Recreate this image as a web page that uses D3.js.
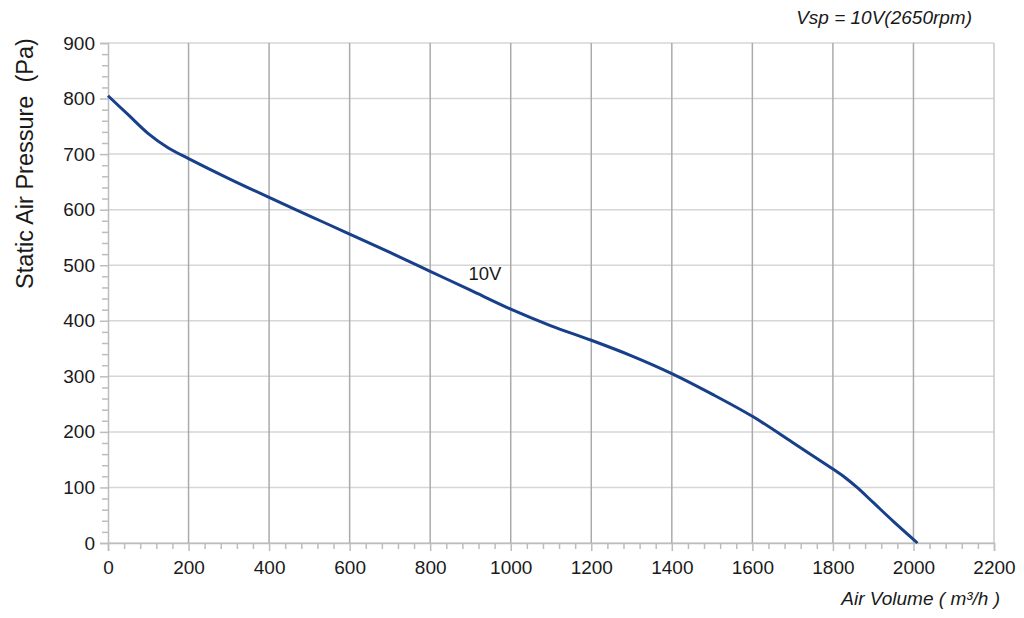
<!DOCTYPE html>
<html>
<head>
<meta charset="utf-8">
<script src="https://cdn.jsdelivr.net/npm/d3@7"></script>
<style>
  body { margin: 0; background: #fff; }
  svg { font-family: "Liberation Sans", Arial, sans-serif; }
</style>
</head>
<body>
<div id="chart"></div>
<script>
// air volume (m3/h) and static pressure (Pa)
var airVolume = [0, 50, 100, 150, 200, 300, 400, 500, 600, 700, 800, 900, 1000, 1100, 1200, 1300, 1400, 1500, 1600, 1700, 1800, 1830, 1860, 1900, 1950, 2010];
var pressure = [805, 771, 737, 711, 692, 656, 622, 589, 556, 523, 489, 455, 421, 391, 365, 337, 305, 268, 228, 181, 133, 118, 100, 73, 39, 0];
var xTicks = [0, 200, 400, 600, 800, 1000, 1200, 1400, 1600, 1800, 2000, 2200];
var yTicks = [0, 100, 200, 300, 400, 500, 600, 700, 800, 900];
var curveLabel = "10V";
var labelAt = 900;

var width = 1024, height = 618;
var margin = { top: 43, right: 30, bottom: 75, left: 108 };
var innerW = width - margin.left - margin.right;
var innerH = height - margin.top - margin.bottom;

var svg = d3.select("#chart").append("svg")
  .attr("width", width)
  .attr("height", height);

var g = svg.append("g")
  .attr("transform", "translate(" + margin.left + "," + margin.top + ")");

var x = d3.scaleLinear().domain([0, 2200]).range([0, innerW]);
var y = d3.scaleLinear().domain([0, 900]).range([innerH, 0]);

// horizontal grid
g.append("g")
  .selectAll("line")
  .data(yTicks)
  .join("line")
  .attr("x1", 0).attr("x2", innerW)
  .attr("y1", d => y(d)).attr("y2", d => y(d))
  .attr("stroke", "#d6d6d6")
  .attr("stroke-width", 1.5);

// vertical grid
g.append("g")
  .selectAll("line")
  .data(xTicks.slice(1))
  .join("line")
  .attr("x1", d => x(d)).attr("x2", d => x(d))
  .attr("y1", 0).attr("y2", innerH)
  .attr("stroke", d => d === 2200 ? "#c8c8c8" : "#ababab")
  .attr("stroke-width", 1.5);

// minor ticks
var yMinor = d3.range(0, 901, 20).filter(d => d % 100 !== 0);
var xMinor = d3.range(0, 2201, 40).filter(d => d % 200 !== 0);

g.append("g")
  .call(d3.axisLeft(y).tickValues(yTicks).tickSize(8).tickPadding(5).tickFormat(d3.format("d")));
g.append("g")
  .call(d3.axisLeft(y).tickValues(yMinor).tickSize(6).tickFormat(""))
  .call(a => a.select(".domain").remove());

g.append("g")
  .attr("transform", "translate(0," + innerH + ")")
  .call(d3.axisBottom(x).tickValues(xTicks).tickSize(8).tickPadding(10).tickFormat(d3.format("d")));
g.append("g")
  .attr("transform", "translate(0," + innerH + ")")
  .call(d3.axisBottom(x).tickValues(xMinor).tickSize(6).tickFormat(""))
  .call(a => a.select(".domain").remove());

g.selectAll(".domain").attr("stroke", "#bdbdbd").attr("stroke-width", 1.5);
g.selectAll(".tick line").attr("stroke", "#bdbdbd").attr("stroke-width", 1.5);
g.selectAll(".tick text").attr("fill", "#1a1a1a").style("font-size", "19px");

// curve
var line = d3.line()
  .x((d, i) => x(airVolume[i]))
  .y(d => y(d))
  .curve(d3.curveCatmullRom.alpha(0.5));

g.append("path")
  .datum(pressure)
  .attr("fill", "none")
  .attr("stroke", "#173f8a")
  .attr("stroke-width", 3)
  .attr("stroke-linejoin", "round")
  .attr("d", line);

var li = airVolume.indexOf(labelAt);
g.append("text")
  .attr("x", x(labelAt) - 2)
  .attr("y", y(pressure[li]) - 10)
  .attr("fill", "#1a1a1a")
  .style("font-size", "18.5px")
  .text(curveLabel);

// titles
svg.append("text")
  .attr("transform", "translate(33,163.5) rotate(-90)")
  .attr("text-anchor", "middle")
  .attr("fill", "#1a1a1a")
  .style("font-size", "23.5px")
  .style("white-space", "pre")
  .text("Static Air Pressure  (Pa)");

svg.append("text")
  .attr("x", 1000)
  .attr("y", 605)
  .attr("text-anchor", "end")
  .attr("fill", "#1a1a1a")
  .style("font-size", "19px")
  .style("font-style", "italic")
  .text("Air Volume ( m³/h )");

svg.append("text")
  .attr("x", 972)
  .attr("y", 24)
  .attr("text-anchor", "end")
  .attr("fill", "#1a1a1a")
  .style("font-size", "19px")
  .style("font-style", "italic")
  .text("Vsp = 10V(2650rpm)");
</script>
</body>
</html>
